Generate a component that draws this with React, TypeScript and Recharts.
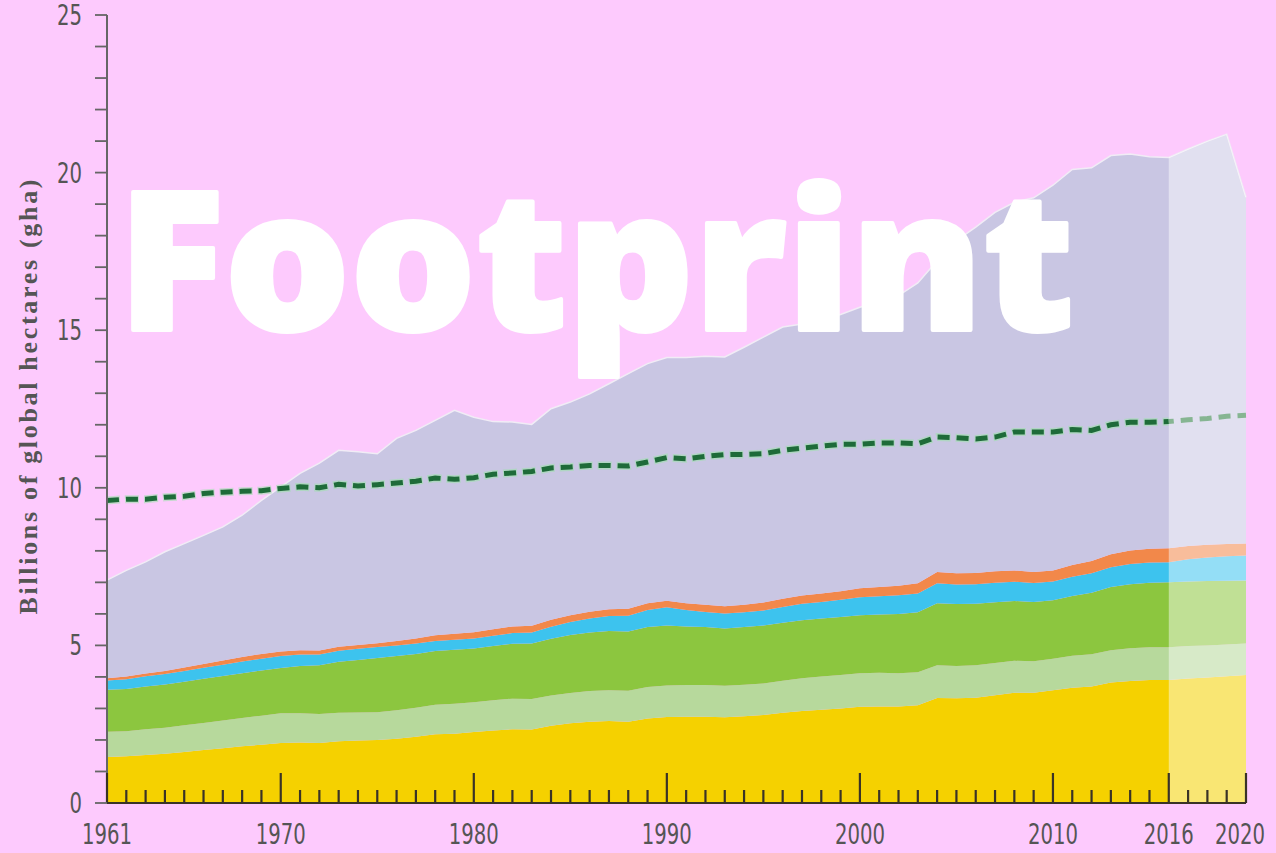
import React from 'react';
import {
  AreaChart,
  Area,
  Line,
  XAxis,
  YAxis,
} from 'recharts';

// years 1961..2020
const years = Array.from({ length: 60 }, (_, i) => 1961 + i);

// footprint components, billions of gha (stack thickness per year)
const cropland = [
  1.46, 1.48, 1.52, 1.56, 1.62, 1.68, 1.74, 1.8, 1.85, 1.9,
  1.92, 1.9, 1.96, 1.98, 2.0, 2.04, 2.1, 2.18, 2.2, 2.25,
  2.3, 2.34, 2.33, 2.45, 2.53, 2.58, 2.6, 2.58, 2.68, 2.73,
  2.74, 2.74, 2.72, 2.75, 2.79, 2.86, 2.92, 2.96, 3.0, 3.05,
  3.06, 3.06, 3.1, 3.33, 3.32, 3.34, 3.42, 3.5, 3.5, 3.58,
  3.66, 3.7, 3.82, 3.87, 3.9, 3.9, 3.95, 3.98, 4.02, 4.06,
];
const grazing = [
  0.8, 0.8, 0.82, 0.83, 0.85, 0.86, 0.88, 0.9, 0.92, 0.95,
  0.93, 0.92, 0.9, 0.89, 0.88, 0.9, 0.92, 0.94, 0.95, 0.95,
  0.96, 0.97, 0.97, 0.96, 0.96, 0.97, 0.98, 0.98, 1.0, 1.0,
  1.0, 1.0, 1.0, 1.0, 1.0, 1.02, 1.04, 1.05, 1.06, 1.07,
  1.07, 1.06, 1.05, 1.04, 1.03, 1.03, 1.02, 1.01, 1.0, 1.0,
  1.01, 1.02, 1.03, 1.04, 1.04, 1.04, 1.03, 1.02, 1.01, 1.0,
];
const forest = [
  1.33, 1.34, 1.36, 1.37, 1.38, 1.4, 1.41, 1.42, 1.43, 1.43,
  1.5, 1.55, 1.62, 1.67, 1.72, 1.72, 1.71, 1.7, 1.71, 1.7,
  1.72, 1.74, 1.76, 1.8, 1.84, 1.86, 1.88, 1.88, 1.9, 1.9,
  1.86, 1.84, 1.82, 1.83, 1.84, 1.84, 1.84, 1.84, 1.84, 1.84,
  1.85, 1.88, 1.9, 1.97, 1.96, 1.95, 1.93, 1.9, 1.88, 1.85,
  1.9, 1.95, 2.0, 2.03, 2.05, 2.06, 2.05, 2.04, 2.02, 2.0,
];
const fishing = [
  0.3, 0.31, 0.32, 0.33, 0.34, 0.35, 0.36, 0.37, 0.38, 0.38,
  0.36, 0.34, 0.35, 0.35, 0.35, 0.34, 0.33, 0.32, 0.32, 0.32,
  0.33, 0.34, 0.35, 0.38, 0.41, 0.44, 0.47, 0.5, 0.54, 0.58,
  0.52, 0.48, 0.47, 0.47, 0.48, 0.5, 0.52, 0.53, 0.55, 0.57,
  0.58, 0.59, 0.6, 0.63, 0.62, 0.62, 0.62, 0.61, 0.6, 0.6,
  0.61, 0.62, 0.63, 0.64, 0.64, 0.64, 0.7, 0.75, 0.78, 0.79,
];
const builtUp = [
  0.07, 0.08, 0.09, 0.1, 0.11, 0.12, 0.13, 0.14, 0.15, 0.15,
  0.14, 0.13, 0.13, 0.12, 0.12, 0.14, 0.16, 0.18, 0.19, 0.2,
  0.2, 0.21, 0.21, 0.22, 0.22, 0.22, 0.22, 0.22, 0.22, 0.21,
  0.22, 0.23, 0.23, 0.24, 0.25, 0.26, 0.26, 0.27, 0.27, 0.28,
  0.29, 0.3, 0.32, 0.36, 0.36, 0.36, 0.36, 0.36, 0.35, 0.35,
  0.37, 0.39, 0.41, 0.43, 0.44, 0.44, 0.42, 0.4, 0.39, 0.38,
];
const carbon = [
  3.11, 3.37, 3.54, 3.78, 3.93, 4.08, 4.24, 4.5, 4.87, 5.22,
  5.61, 5.94, 6.23, 6.13, 6.01, 6.43, 6.6, 6.82, 7.09, 6.82,
  6.59, 6.49, 6.39, 6.7, 6.76, 6.91, 7.15, 7.46, 7.6, 7.71,
  7.79, 7.88, 7.91, 8.17, 8.42, 8.62, 8.62, 8.7, 8.78, 8.92,
  9.05, 9.21, 9.53, 9.87, 10.55, 10.97, 11.39, 11.68, 11.87, 12.22,
  12.55, 12.47, 12.65, 12.58, 12.43, 12.4, 12.6, 12.81, 13.0, 10.99,
];
// biocapacity (dashed line)
const biocapacity = [
  9.6, 9.64, 9.64, 9.7, 9.73, 9.82, 9.86, 9.89, 9.91, 9.98,
  10.03, 10.0, 10.11, 10.06, 10.1, 10.15, 10.21, 10.31, 10.27, 10.32,
  10.43, 10.47, 10.52, 10.63, 10.66, 10.71, 10.71, 10.69, 10.82, 10.96,
  10.92, 11.0, 11.05, 11.06, 11.08, 11.19, 11.26, 11.32, 11.38, 11.38,
  11.42, 11.42, 11.4, 11.61, 11.59, 11.55, 11.61, 11.77, 11.77, 11.77,
  11.85, 11.82, 12.0, 12.08, 12.08, 12.1, 12.16, 12.2, 12.27, 12.3,
];

// projection period (faded band)
const projectionYears = [2016, 2017, 2018, 2019, 2020];
const projectedTotal = [20.48, 20.75, 21.0, 21.22, 19.22];

const xLabels = [1961, 1970, 1980, 1990, 2000, 2010, 2016, 2020];
const yTicks = [0, 1, 2, 3, 4, 5, 6, 7, 8, 9, 10, 11, 12, 13, 14, 15, 16, 17, 18, 19, 20, 21, 22, 23, 24, 25];
const yLabels = [0, 5, 10, 15, 20, 25];

const data = years.map((year, i) => {
  const p = projectionYears.indexOf(year);
  return {
    year,
    cropland: cropland[i],
    grazing: grazing[i],
    forest: forest[i],
    fishing: fishing[i],
    builtUp: builtUp[i],
    carbon: carbon[i],
    bioActual: year <= 2016 ? biocapacity[i] : null,
    bioProjected: year >= 2016 ? biocapacity[i] : null,
    projection: p >= 0 ? projectedTotal[p] : null,
  };
});

const BG = '#FDCAFD';
const LABEL_FONT = "'Liberation Sans Narrow', 'DejaVu Sans Condensed', 'Liberation Sans', sans-serif";

const XTick = (props: any) => {
  const { x, y, payload } = props;
  const major = xLabels.includes(payload.value);
  const shift = payload.value === 2020 ? -6 : 0;
  return (
    <g>
      <line x1={x} x2={x} y1={y} y2={y - (major ? 30 : 13)} stroke="#3a3326" strokeWidth={2.2} />
      {major && (
        <text
          x={x + shift}
          y={y + 41}
          textAnchor="middle"
          fontFamily={LABEL_FONT}
          fontSize={28}
          fill="#555"
          textLength={50}
          lengthAdjust="spacingAndGlyphs"
        >
          {payload.value}
        </text>
      )}
    </g>
  );
};

const YTick = (props: any) => {
  const { x, y, payload } = props;
  const show = yLabels.includes(payload.value);
  const txt = String(payload.value);
  return (
    <g>
      <line x1={x - 12} x2={x} y1={y} y2={y} stroke="#666" strokeWidth={1.8} />
      {show && (
        <text
          x={x - 25}
          y={y + 10}
          textAnchor="end"
          fontFamily={LABEL_FONT}
          fontSize={28}
          fill="#555"
          textLength={txt.length * 12.5}
          lengthAdjust="spacingAndGlyphs"
        >
          {txt}
        </text>
      )}
    </g>
  );
};

export default function App() {
  return (
    <div style={{ position: 'absolute', left: 0, top: 0, width: 1276, height: 853, background: BG, overflow: 'hidden' }}>
      <AreaChart
        width={1276}
        height={853}
        data={data}
        margin={{ top: 15, right: 30, bottom: 0, left: 0 }}
      >
        <XAxis
          dataKey="year"
          type="number"
          domain={[1961, 2020]}
          ticks={years}
          interval={0}
          height={50}
          tickSize={0}
          tickMargin={0}
          tickLine={false}
          axisLine={{ stroke: '#3a3326', strokeWidth: 2.2 }}
          tick={<XTick />}
        />
        <YAxis
          type="number"
          domain={[0, 25]}
          ticks={yTicks}
          interval={0}
          width={107}
          tickSize={0}
          tickMargin={0}
          tickLine={false}
          axisLine={{ stroke: '#666', strokeWidth: 2 }}
          tick={<YTick />}
        />
        <Area type="linear" dataKey="cropland" stackId="1" fill="#F5D100" fillOpacity={1} stroke="none" isAnimationActive={false} />
        <Area type="linear" dataKey="grazing" stackId="1" fill="#B7D99C" fillOpacity={1} stroke="none" isAnimationActive={false} />
        <Area type="linear" dataKey="forest" stackId="1" fill="#8CC63F" fillOpacity={1} stroke="none" isAnimationActive={false} />
        <Area type="linear" dataKey="fishing" stackId="1" fill="#3DC3EE" fillOpacity={1} stroke="none" isAnimationActive={false} />
        <Area type="linear" dataKey="builtUp" stackId="1" fill="#F2884A" fillOpacity={1} stroke="none" isAnimationActive={false} />
        <Area type="linear" dataKey="carbon" stackId="1" fill="#C9C6E3" fillOpacity={1} stroke="#F1ECF6" strokeWidth={1.5} isAnimationActive={false} />
        <Area type="linear" dataKey="projection" fill="#FFFFFF" fillOpacity={0.45} stroke="none" isAnimationActive={false} />
        <Line
          type="linear"
          dataKey="bioActual"
          stroke="#9BE3A9"
          strokeOpacity={0.55}
          strokeWidth={8}
          strokeDasharray="14 5"
          strokeDashoffset={1}
          dot={false}
          activeDot={false}
          isAnimationActive={false}
        />
        <Line
          type="linear"
          dataKey="bioActual"
          stroke="#1E6B39"
          strokeWidth={5}
          strokeDasharray="12 7"
          dot={false}
          activeDot={false}
          isAnimationActive={false}
        />
        <Line
          type="linear"
          dataKey="bioProjected"
          stroke="#86B592"
          strokeWidth={5}
          strokeDasharray="12 7"
          strokeDashoffset={7}
          dot={false}
          activeDot={false}
          isAnimationActive={false}
        />
      </AreaChart>
      <svg width={1276} height={853} style={{ position: 'absolute', left: 0, top: 0, pointerEvents: 'none' }}>
        <text
          x={28}
          y={397}
          transform="rotate(-90 28 397)"
          textAnchor="middle"
          dominantBaseline="central"
          fontFamily="'Liberation Serif', 'DejaVu Serif', serif"
          fontWeight="bold"
          fontSize={26}
          fill="#555"
          textLength={435}
        >
          Billions of global hectares (gha)
        </text>
        <text
          x={118}
          y={330}
          fontFamily="'Open Sans', 'Noto Sans', sans-serif"
          fontWeight={800}
          fontSize={193}
          fill="#FFFFFF"
          stroke="#FFFFFF"
          strokeWidth={4}
          strokeLinejoin="round"
          textLength={956}
          lengthAdjust="spacingAndGlyphs"
        >
          Footprint
        </text>
      </svg>
    </div>
  );
}
